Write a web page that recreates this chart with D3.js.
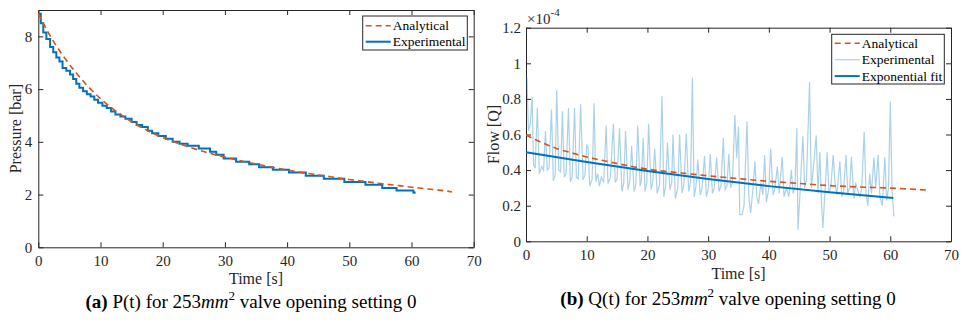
<!DOCTYPE html>
<html>
<head>
<meta charset="utf-8">
<script src="https://cdn.jsdelivr.net/npm/d3@7"></script>
<style>
  body { margin: 0; background: #fff; }
  svg { display: block; font-family: "Liberation Serif", "Times New Roman", serif; }
</style>
</head>
<body>
<div id="chart"></div>
<script>
// ---- data ----
// (a) pressure, bar
const pAnaT = [0, 2, 4, 6, 8, 10, 12, 14, 16, 18, 20, 22, 24, 26, 28, 30, 32, 34, 36, 38, 40, 42, 44, 46, 48, 50, 52, 54, 56, 58, 60, 62, 64, 66, 66.5];
const pAnaV = [8.86, 7.98, 7.26, 6.64, 6.1, 5.64, 5.25, 4.91, 4.62, 4.37, 4.16, 3.98, 3.82, 3.67, 3.54, 3.42, 3.31, 3.21, 3.11, 3.02, 2.93, 2.85, 2.78, 2.71, 2.64, 2.57, 2.51, 2.45, 2.39, 2.34, 2.28, 2.23, 2.18, 2.12, 2.1];
// experimental pressure is a staircase (value holds until next time)
const pExpT = [0, 0.4, 0.8, 1.3, 1.9, 2.4, 2.9, 3.4, 3.9, 4.5, 5.1, 5.6, 6.1, 6.6, 7.2, 7.8, 8.4, 9.0, 9.6, 10.3, 11.0, 11.7, 12.4, 13.2, 14.0, 15.0, 15.8, 16.7, 17.6, 18.3, 19.3, 20.5, 21.6, 22.7, 24.0, 25.8, 27.6, 28.6, 29.8, 31.8, 33.9, 35.5, 37.7, 40.3, 43.0, 45.9, 49.2, 52.6, 55.3, 57.6, 60.3, 60.5];
const pExpV = [8.86, 8.5, 8.15, 7.9, 7.6, 7.4, 7.2, 7.05, 6.8, 6.7, 6.55, 6.38, 6.2, 6.05, 5.92, 5.8, 5.72, 5.6, 5.48, 5.37, 5.28, 5.15, 5.04, 4.96, 4.88, 4.75, 4.64, 4.56, 4.42, 4.33, 4.22, 4.12, 4.0, 3.93, 3.85, 3.75, 3.62, 3.51, 3.37, 3.24, 3.15, 3.04, 2.94, 2.84, 2.71, 2.6, 2.48, 2.37, 2.25, 2.15, 2.08, 2.03];

// (b) flow, in units of 1e-4
const qAnaT = [0, 2.5, 5, 7.5, 10, 12.5, 15, 20, 25, 30, 35, 40, 45, 50, 55, 60, 66.5];
const qAnaV = [0.597, 0.556, 0.522, 0.497, 0.474, 0.455, 0.437, 0.405, 0.386, 0.368, 0.352, 0.337, 0.325, 0.313, 0.305, 0.299, 0.287];
const qFitT = [0, 10, 20, 30, 40, 50, 60.5];
const qFitV = [0.5, 0.445, 0.395, 0.35, 0.31, 0.275, 0.243];
const qExpT = [0, 0.15, 0.4, 0.7, 1.0, 1.25, 1.5, 1.87, 2.2, 2.6, 2.9, 3.2, 3.5, 3.8, 4.2, 4.5, 4.8, 5.05, 5.4, 5.7, 6.0, 6.3, 6.6, 7.0, 7.3, 7.6, 8.0, 8.3, 8.6, 9.0, 9.4, 9.7, 10.0, 10.2, 10.5, 10.9, 11.2, 11.5, 11.8, 12.1, 12.4, 12.8, 13.2, 13.5, 13.9, 14.4, 14.7, 15.0, 15.4, 15.8, 16.1, 16.4, 16.8, 17.1, 17.4, 17.8, 18.1, 18.4, 18.8, 19.0, 19.3, 19.6, 19.9, 20.2, 20.6, 20.9, 21.2, 21.6, 22.0, 22.4, 22.7, 23.0, 23.3, 23.7, 24.0, 24.2, 24.6, 25.0, 25.3, 25.7, 26.0, 26.4, 26.8, 27.1, 27.4, 27.7, 28.0, 28.3, 28.7, 29.0, 29.4, 29.7, 30.0, 30.35, 30.7, 31.0, 31.4, 31.8, 32.1, 32.5, 32.8, 33.1, 33.4, 33.7, 34.0, 34.4, 34.7, 35.0, 35.2, 35.6, 35.9, 36.4, 36.7, 37.0, 37.4, 37.7, 38.0, 38.3, 38.7, 39.0, 39.3, 39.6, 40.0, 40.3, 40.7, 41.0, 41.4, 41.7, 42.2, 42.5, 42.9, 43.3, 43.7, 44.0, 44.3, 44.6, 44.8, 45.1, 45.6, 45.9, 46.2, 46.7, 47.0, 47.3, 47.8, 48.1, 48.4, 48.7, 48.9, 49.2, 49.6, 49.9, 50.2, 50.6, 50.9, 51.2, 51.7, 52.0, 52.3, 52.7, 53.0, 53.3, 53.6, 54.0, 54.3, 54.7, 55.0, 55.3, 55.7, 56.0, 56.3, 56.6, 56.9, 57.3, 57.6, 58.0, 58.3, 58.7, 59.1, 59.4, 59.7, 60.0, 60.3, 60.6];
const qExpV = [0.9, 0.92, 0.62, 0.66, 0.81, 0.43, 0.41, 0.75, 0.38, 0.42, 0.4, 0.62, 0.4, 0.41, 0.74, 0.34, 0.37, 0.85, 0.4, 0.39, 0.73, 0.36, 0.38, 0.75, 0.335, 0.36, 0.75, 0.36, 0.35, 0.77, 0.345, 0.37, 0.54, 0.53, 0.31, 0.35, 0.775, 0.335, 0.38, 0.31, 0.36, 0.33, 0.65, 0.325, 0.36, 0.66, 0.33, 0.35, 0.635, 0.28, 0.33, 0.62, 0.29, 0.34, 0.535, 0.28, 0.32, 0.65, 0.31, 0.34, 0.58, 0.28, 0.33, 0.66, 0.29, 0.34, 0.52, 0.27, 0.32, 0.815, 0.25, 0.31, 0.555, 0.29, 0.33, 0.6, 0.24, 0.3, 0.6, 0.27, 0.32, 0.605, 0.28, 0.33, 0.92, 0.25, 0.31, 0.46, 0.26, 0.3, 0.48, 0.25, 0.29, 0.49, 0.27, 0.3, 0.47, 0.28, 0.31, 0.58, 0.29, 0.31, 0.49, 0.3, 0.33, 0.71, 0.47, 0.645, 0.15, 0.15, 0.2, 0.675, 0.25, 0.16, 0.3, 0.45, 0.25, 0.21, 0.33, 0.26, 0.485, 0.22, 0.3, 0.52, 0.26, 0.3, 0.42, 0.27, 0.475, 0.25, 0.3, 0.25, 0.4, 0.27, 0.3, 0.635, 0.065, 0.25, 0.59, 0.3, 0.35, 0.895, 0.3, 0.4, 0.595, 0.27, 0.5, 0.2, 0.075, 0.25, 0.5, 0.27, 0.3, 0.485, 0.33, 0.26, 0.45, 0.25, 0.28, 0.485, 0.27, 0.3, 0.475, 0.24, 0.33, 0.28, 0.25, 0.3, 0.615, 0.27, 0.2, 0.38, 0.27, 0.47, 0.3, 0.485, 0.25, 0.2, 0.475, 0.23, 0.3, 0.785, 0.28, 0.14];

const xTicks = [0, 10, 20, 30, 40, 50, 60, 70];
const pTicks = [0, 2, 4, 6, 8];
const qTicks = [0, 0.2, 0.4, 0.6, 0.8, 1, 1.2];

// ---- layout ----
const width = 963, height = 324;
const blue = '#0072BD', orange = '#D95319', axisCol = '#262626';

const svg = d3.select('#chart').append('svg')
  .attr('width', width)
  .attr('height', height);

const zip = (ts, vs) => ts.map((t, i) => [t, vs[i]]);

function drawPanel(opt) {
  const x = d3.scaleLinear().domain([0, 70]).range([opt.left, opt.right]);
  const y = d3.scaleLinear().domain(opt.yDomain).range([opt.bottom, opt.top]);
  const g = svg.append('g');

  // axes, MATLAB-ish box with inward ticks
  g.append('g').attr('transform', `translate(0,${opt.bottom})`)
    .call(d3.axisBottom(x).tickValues(xTicks).tickSizeInner(-5).tickSizeOuter(0).tickPadding(8));
  g.append('g').attr('transform', `translate(0,${opt.top})`)
    .call(d3.axisTop(x).tickValues(xTicks).tickSizeInner(-5).tickSizeOuter(0).tickFormat(''));
  g.append('g').attr('transform', `translate(${opt.left},0)`)
    .call(d3.axisLeft(y).tickValues(opt.yTicks).tickSizeInner(-5).tickSizeOuter(0).tickPadding(opt.yPad).tickFormat(d3.format('~g')));
  g.append('g').attr('transform', `translate(${opt.right},0)`)
    .call(d3.axisRight(y).tickValues(opt.yTicks).tickSizeInner(-5).tickSizeOuter(0).tickFormat(''));

  g.selectAll('.domain, .tick line').attr('stroke', axisCol);
  g.selectAll('.tick text')
    .attr('font-family', '"Liberation Serif", serif')
    .attr('font-size', 15)
    .attr('fill', axisCol);

  // axis labels
  g.append('text')
    .attr('x', (opt.left + opt.right) / 2)
    .attr('y', opt.bottom + opt.xLabelOff)
    .attr('text-anchor', 'middle')
    .attr('font-size', 16)
    .attr('fill', axisCol)
    .text('Time [s]');
  g.append('text')
    .attr('transform', `translate(${opt.yLabelX},${(opt.top + opt.bottom) / 2}) rotate(-90)`)
    .attr('text-anchor', 'middle')
    .attr('dy', '0.35em')
    .attr('font-size', 16)
    .attr('fill', axisCol)
    .text(opt.yLabel);

  return { g, x, y };
}

// ---- (a) pressure ----
const a = drawPanel({
  left: 38.3, right: 473.7, top: 10, bottom: 247.3,
  yDomain: [0, 9], yTicks: pTicks, yPad: 6,
  xLabelOff: 37, yLabelX: 15, yLabel: 'Pressure [bar]'
});

a.g.append('path')
  .datum(zip(pExpT, pExpV))
  .attr('fill', 'none')
  .attr('stroke', blue)
  .attr('stroke-width', 2)
  .attr('d', d3.line().x(d => a.x(d[0])).y(d => a.y(d[1])).curve(d3.curveStepAfter));

a.g.append('path')
  .datum(zip(pAnaT, pAnaV))
  .attr('fill', 'none')
  .attr('stroke', orange)
  .attr('stroke-width', 1.6)
  .attr('stroke-dasharray', '6,4')
  .attr('d', d3.line().x(d => a.x(d[0])).y(d => a.y(d[1])).curve(d3.curveMonotoneX));

// ---- (b) flow ----
const b = drawPanel({
  left: 526, right: 951, top: 27.7, bottom: 241.3,
  yDomain: [0, 1.2], yTicks: qTicks, yPad: 5,
  xLabelOff: 38, yLabelX: 493, yLabel: 'Flow [Q]'
});

// x10^-4 multiplier
const mult = b.g.append('text')
  .attr('x', 527)
  .attr('y', 24)
  .attr('font-size', 15)
  .attr('fill', axisCol);
mult.append('tspan').text('\u00d710');
mult.append('tspan').attr('dy', -8).attr('font-size', 11).text('-4');

b.g.append('path')
  .datum(zip(qExpT, qExpV))
  .attr('fill', 'none')
  .attr('stroke', blue)
  .attr('stroke-opacity', 0.33)
  .attr('stroke-width', 1.2)
  .attr('d', d3.line().x(d => b.x(d[0])).y(d => b.y(d[1])));

b.g.append('path')
  .datum(zip(qAnaT, qAnaV))
  .attr('fill', 'none')
  .attr('stroke', orange)
  .attr('stroke-width', 1.6)
  .attr('stroke-dasharray', '6,4')
  .attr('d', d3.line().x(d => b.x(d[0])).y(d => b.y(d[1])).curve(d3.curveMonotoneX));

b.g.append('path')
  .datum(zip(qFitT, qFitV))
  .attr('fill', 'none')
  .attr('stroke', blue)
  .attr('stroke-width', 2)
  .attr('d', d3.line().x(d => b.x(d[0])).y(d => b.y(d[1])).curve(d3.curveMonotoneX));

// ---- legends ----
function legend(box, rows) {
  const lg = svg.append('g');
  lg.append('rect')
    .attr('x', box.x).attr('y', box.y)
    .attr('width', box.w).attr('height', box.h)
    .attr('fill', '#fff')
    .attr('stroke', axisCol)
    .attr('stroke-width', 1);
  rows.forEach((r, i) => {
    const cy = box.y + box.first + i * box.step;
    lg.append('line')
      .attr('x1', box.x + 3).attr('x2', box.x + 28)
      .attr('y1', cy).attr('y2', cy)
      .attr('stroke', r.color)
      .attr('stroke-width', r.width)
      .attr('stroke-opacity', r.opacity || 1)
      .attr('stroke-dasharray', r.dash || null);
    lg.append('text')
      .attr('x', box.x + 30).attr('y', cy)
      .attr('dy', '0.35em')
      .attr('font-size', 13.5)
      .attr('fill', '#000')
      .text(r.label);
  });
}

legend({ x: 362.7, y: 16, w: 104.6, h: 34, first: 9.7, step: 16 }, [
  { label: 'Analytical', color: orange, width: 1.6, dash: '6,4' },
  { label: 'Experimental', color: blue, width: 2 }
]);

legend({ x: 831.7, y: 34.3, w: 112.6, h: 49.7, first: 9, step: 16.4 }, [
  { label: 'Analytical', color: orange, width: 1.6, dash: '6,4' },
  { label: 'Experimental', color: blue, width: 1.2, opacity: 0.33 },
  { label: 'Exponential fit', color: blue, width: 2 }
]);

// ---- captions ----
function caption(cx, by, tag, fn) {
  const t = svg.append('text')
    .attr('x', cx).attr('y', by)
    .attr('text-anchor', 'middle')
    .attr('font-size', 19)
    .attr('fill', '#000');
  t.append('tspan').attr('font-weight', 'bold').text(tag);
  t.append('tspan').text(' ' + fn + ' for 253');
  t.append('tspan').attr('font-style', 'italic').text('mm');
  t.append('tspan').attr('dy', -8).attr('font-size', 13).text('2');
  t.append('tspan').attr('dy', 8).text(' valve opening setting 0');
}
caption(251, 308, '(a)', 'P(t)');
caption(728, 305, '(b)', 'Q(t)');
</script>
</body>
</html>
